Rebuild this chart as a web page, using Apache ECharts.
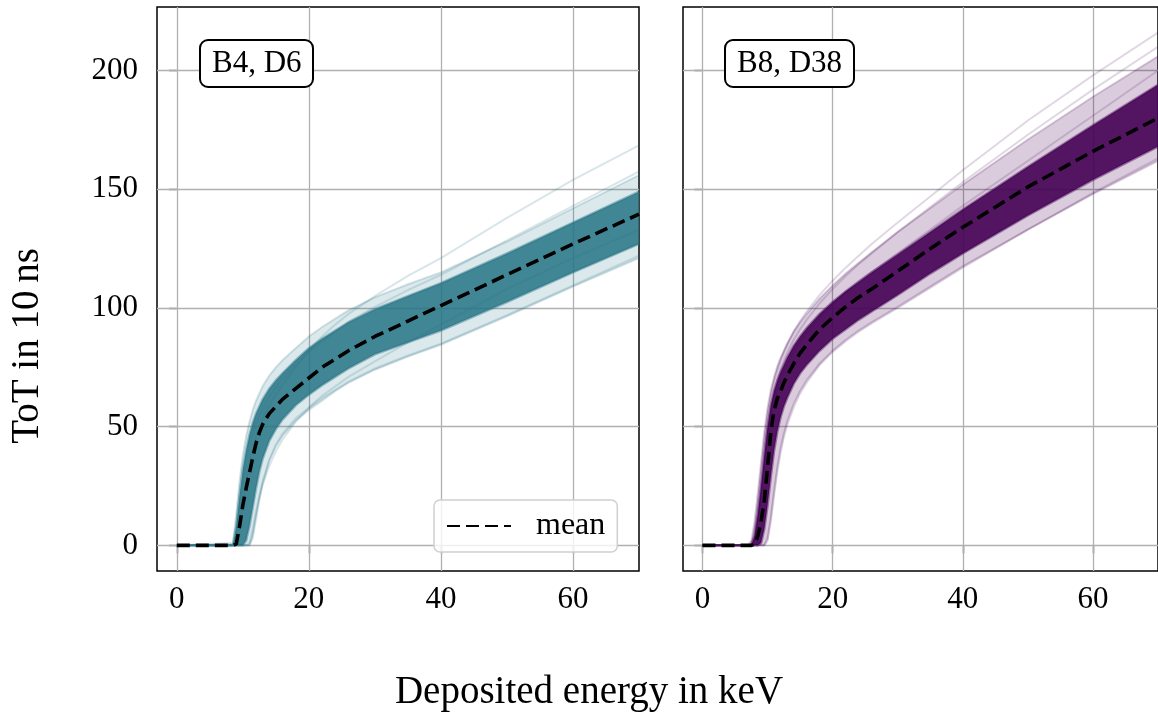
<!DOCTYPE html>
<html>
<head>
<meta charset="utf-8">
<title>ToT calibration</title>
<script src="https://cdn.jsdelivr.net/npm/echarts@6/dist/echarts.min.js"></script>
<style>
  html, body { margin: 0; padding: 0; background: #fff; }
  #chart { width: 1158px; height: 716px; }
</style>
</head>
<body>
<div id="chart"></div>
<script>
// tick labels
const xTicks = [0, 20, 40, 60]
const yTicks = [0, 50, 100, 150, 200]
const panelLabels = ['B4, D6', 'B8, D38']

// left panel (B4, D6): energy grid in keV and ToT values
const energyL = [0, 8.5, 9, 9.5, 10, 10.5, 11, 11.5, 12, 12.5, 13, 14, 15, 16, 18, 20, 22, 24, 26, 30, 35, 40, 50, 60, 70]
const meanL = [0, 0, 0.5, 8, 17, 24, 30.5, 37, 43, 47.5, 51, 55.5, 58.5, 61.5, 66, 70.5, 75, 78.5, 82, 88, 94.5, 101, 114, 127, 139.5]
const outerTopL = [0, 1, 13, 27, 38, 46, 52, 57, 61, 64, 67, 71.5, 75, 78, 83, 88, 92, 95.5, 99, 104.5, 110, 115, 128, 142, 156]
const coreTopL = [0, 0, 8, 21, 32, 40, 46.5, 51.5, 55.5, 58.5, 61.5, 66, 69.5, 72.5, 78, 83, 87, 90.5, 94, 99.5, 105, 110.5, 123, 136, 149]
const coreBotL = [0, 0, 0, 0, 0, 2, 8, 16, 24, 31, 36.5, 44, 49, 53, 59, 63.5, 67.5, 71, 74.5, 80.5, 85.5, 90.5, 102.5, 115, 127]
const outerBotL = [0, 0, 0, 0, 0, 0, 0, 3, 11, 19, 26, 35.5, 41.5, 46, 52.5, 57, 61, 65, 68.5, 74, 79.5, 84.5, 96.5, 109, 121]
const pixelsL = [
  [0, 0, 0, 6, 17, 27, 35, 41, 46, 50, 53.5, 59, 63.5, 67.5, 75, 82, 88, 93, 97.5, 105, 113.5, 121, 138, 154, 168.5],
  [0, 0, 4, 16, 27, 35, 42, 47, 51, 54.5, 57.5, 62.5, 66.5, 70, 76, 81.5, 86, 90, 94, 100.5, 107.5, 114, 128.5, 143, 157.5],
  [0, 0, 0, 0, 0, 0, 0, 5, 13, 20, 25.5, 33.5, 39.5, 44.5, 52, 58, 63, 67, 71, 77.5, 85.5, 93, 108, 121, 133],
  [0, 0, 0, 0, 0, 0, 1, 7, 14.5, 21, 27, 36, 42.5, 47, 53.5, 58, 62, 65.5, 69, 74.5, 80, 85, 97, 109.5, 122]
]

// right panel (B8, D38)
const energyR = [0, 7, 7.5, 8, 8.5, 9, 9.5, 10, 10.5, 11, 11.5, 12, 12.5, 13, 14, 15, 16, 18, 20, 22, 24, 26, 30, 35, 40, 50, 60, 70]
const meanR = [0, 0, 0, 0.5, 4, 10, 19, 33, 48, 57, 62, 65, 68.5, 71.5, 76.5, 81, 84.5, 91, 96, 100.5, 104.5, 108, 115.5, 125, 134, 151, 166, 180]
const outerTopR = [0, 0, 2, 10, 22, 35, 48, 58, 65.5, 71, 75.5, 79, 82, 85, 90, 94, 97.5, 104, 109.5, 114.5, 119, 123.5, 132, 142, 152, 171, 189, 206]
const coreTopR = [0, 0, 0, 4, 13, 25, 38, 50, 59, 65, 69.5, 73, 76, 79, 84, 88, 91.5, 97.5, 102.5, 107, 111, 115, 122.5, 132, 141.5, 159.5, 177, 194]
const coreBotR = [0, 0, 0, 0, 0, 1, 7, 17, 29, 40, 48, 54, 58.5, 62, 68, 72.5, 76, 82, 87, 91, 95, 98.5, 105.5, 114.5, 123, 139, 154, 168]
const outerBotR = [0, 0, 0, 0, 0, 0, 0, 3, 12, 23, 33, 41, 47, 52, 59.5, 65, 69.5, 76.5, 82, 86.5, 90.5, 94, 100.5, 109, 117.5, 133, 148, 162]
const pixelsR = [
  [0, 0, 0, 6, 18, 31, 44, 55, 63, 69, 74, 78, 81.5, 84.5, 90, 94.5, 98.5, 105.5, 111.5, 117, 122, 127, 136, 147, 158, 179, 198, 216],
  [0, 0, 0, 2, 12, 24, 37, 49, 58, 64.5, 69.5, 74, 77.5, 81, 86.5, 91, 95, 102, 108, 113.5, 118.5, 123, 132, 142.5, 153, 173, 192, 210],
  [0, 0, 0, 3, 11, 22, 34, 46, 55, 61.5, 66, 70, 73, 76, 81.5, 86, 89.5, 96, 101.5, 106.5, 111, 115, 123, 133, 143, 162, 181, 200],
  [0, 0, 0, 0, 0, 0, 0, 2, 10, 21, 31, 39, 45.5, 50.5, 58, 64, 68.5, 76, 81.5, 86, 90, 93.5, 100, 108.5, 117, 133, 148.5, 163]
]

const FONT = '"Liberation Serif", "DejaVu Serif", serif'
const TEAL = '38,116,134'
const PURPLE = '68,1,84'

const chartInstance = echarts.init(document.getElementById('chart'))

function pairs(xs, ys) {
  return xs.map((x, i) => [x, ys[i]])
}

// 上沿和下沿之间的带子, 用坐标轴换算成像素
function makeBand(idx, xs, lower, upper, rgb, fillAlpha, edgeAlpha, edgeWidth) {
  return {
    type: 'custom',
    xAxisIndex: idx,
    yAxisIndex: idx,
    silent: true,
    z: 2,
    data: [[0, 0]],
    renderItem: (params, api) => {
      const top = xs.map((x, i) => api.coord([x, upper[i]]))
      const bot = xs.map((x, i) => api.coord([x, lower[i]]))
      const edge = { stroke: `rgba(${rgb},${edgeAlpha})`, lineWidth: edgeWidth, fill: null }
      return {
        type: 'group',
        children: [
          { type: 'polygon', shape: { points: top.concat(bot.slice().reverse()) }, style: { fill: `rgba(${rgb},${fillAlpha})` } },
          { type: 'polyline', shape: { points: top }, style: edge },
          { type: 'polyline', shape: { points: bot }, style: edge }
        ]
      }
    }
  }
}

function makePixels(idx, xs, list, rgb, alpha) {
  return list.map(ys => ({
    type: 'line',
    xAxisIndex: idx,
    yAxisIndex: idx,
    symbol: 'none',
    silent: true,
    z: 3,
    data: pairs(xs, ys),
    lineStyle: { color: `rgba(${rgb},${alpha})`, width: 2 }
  }))
}

function makeMean(idx, xs, ys) {
  return {
    type: 'line',
    name: 'mean',
    xAxisIndex: idx,
    yAxisIndex: idx,
    symbol: 'none',
    z: 5,
    data: pairs(xs, ys),
    itemStyle: { color: '#000' },
    lineStyle: { color: '#000', width: 3.6, type: [13, 6] },
    // 网格线
    markLine: {
      silent: true,
      symbol: 'none',
      z: 1,
      animation: false,
      label: { show: false },
      lineStyle: { color: '#b0b0b0', width: 1.3, type: 'solid' },
      data: xTicks.map(v => ({ xAxis: v })).concat(yTicks.map(v => ({ yAxis: v })))
    }
  }
}

function makeXAxis(idx) {
  return {
    type: 'value',
    gridIndex: idx,
    min: -3,
    max: 70,
    axisLine: { show: false },
    axisTick: { show: true, length: 8, customValues: xTicks, lineStyle: { color: '#000', width: 1.3 } },
    axisLabel: { customValues: xTicks, color: '#000', fontSize: 31, fontFamily: FONT, margin: 13 },
    splitLine: { show: false }
  }
}

function makeYAxis(idx, showLabel) {
  return {
    type: 'value',
    gridIndex: idx,
    min: -10.8,
    max: 226.8,
    axisLine: { show: false },
    axisTick: { show: true, length: 8, customValues: yTicks, lineStyle: { color: '#000', width: 1.3 } },
    axisLabel: { show: showLabel, customValues: yTicks, color: '#000', fontSize: 31, fontFamily: FONT, margin: 19 },
    splitLine: { show: false }
  }
}

function makeTitle(text, left) {
  return {
    text: text,
    left: left,
    top: 40,
    padding: [7, 12],
    borderWidth: 2,
    borderColor: '#000',
    borderRadius: 8,
    backgroundColor: '#fff',
    textStyle: { fontFamily: FONT, fontSize: 31, fontWeight: 'normal', color: '#000', lineHeight: 33 }
  }
}

const series = [].concat(
  [makeBand(0, energyL, outerBotL, outerTopL, TEAL, 0.16, 0.2, 2)],
  [makeBand(0, energyL, coreBotL, coreTopL, TEAL, 0.85, 0.45, 2.5)],
  makePixels(0, energyL, pixelsL, TEAL, 0.18),
  [makeMean(0, energyL, meanL)],
  [makeBand(1, energyR, outerBotR, outerTopR, PURPLE, 0.2, 0.2, 2)],
  [makeBand(1, energyR, coreBotR, coreTopR, PURPLE, 0.9, 0.45, 2.5)],
  makePixels(1, energyR, pixelsR, PURPLE, 0.16),
  [makeMean(1, energyR, meanR)]
)

const option = {
  animation: false,
  backgroundColor: '#fff',
  title: [makeTitle(panelLabels[0], 200), makeTitle(panelLabels[1], 725)],
  grid: [
    { left: 157, top: 7, width: 482, height: 564, show: true, borderColor: '#000', borderWidth: 1.5, backgroundColor: 'transparent' },
    { left: 683, top: 7, width: 482, height: 564, show: true, borderColor: '#000', borderWidth: 1.5, backgroundColor: 'transparent' }
  ],
  xAxis: [makeXAxis(0), makeXAxis(1)],
  yAxis: [makeYAxis(0, true), makeYAxis(1, false)],
  legend: {
    data: ['mean'],
    left: 434,
    top: 500,
    padding: [9, 12, 9, 12],
    itemWidth: 64,
    itemHeight: 20,
    itemStyle: { opacity: 0 },
    backgroundColor: 'rgba(255,255,255,0.8)',
    borderColor: '#d0d0d0',
    borderWidth: 1.5,
    borderRadius: 6,
    textStyle: { fontFamily: FONT, fontSize: 32, color: '#000', lineHeight: 34, padding: [0, 0, 0, 20] }
  },
  graphic: [
    {
      type: 'text',
      x: 28,
      y: 346,
      rotation: Math.PI / 2,
      style: { text: 'ToT in 10\u2009ns', font: '39px ' + FONT, fill: '#000', textAlign: 'center', textVerticalAlign: 'middle' }
    },
    {
      type: 'text',
      x: 589,
      y: 693,
      style: { text: 'Deposited energy in keV', font: '39px ' + FONT, fill: '#000', textAlign: 'center', textVerticalAlign: 'middle' }
    }
  ],
  series: series
}

chartInstance.setOption(option)
</script>
</body>
</html>
